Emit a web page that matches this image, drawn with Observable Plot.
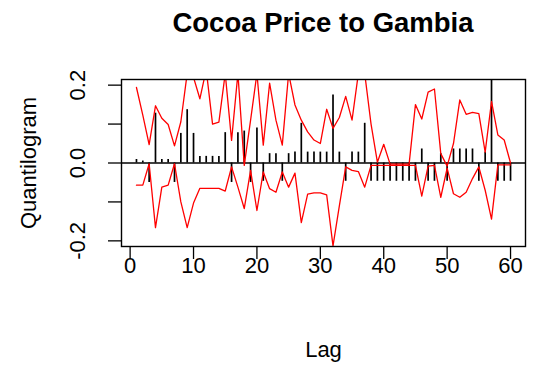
<!DOCTYPE html>
<html>
<head>
<meta charset="utf-8">
<script src="https://cdn.jsdelivr.net/npm/d3@7"></script>
<script src="https://cdn.jsdelivr.net/npm/@observablehq/plot@0.6"></script>
<style>
  html, body { margin: 0; padding: 0; background: #fff; }
  #wrap { width: 541px; height: 368px; position: relative; font-family: "Liberation Sans", Arial, sans-serif; }
  #title { box-sizing: border-box; height: 44px; padding: 9px 16px 0 121px; text-align: center;
           font-size: 27.5px; line-height: 27.5px; font-weight: bold; color: #000; }
</style>
</head>
<body>
<div id="wrap">
  <div id="title">Cocoa Price to Gambia</div>
  <div id="chart"></div>
</div>
<script>
const lags = [1,2,3,4,5,6,7,8,9,10,11,12,13,14,15,16,17,18,19,20,21,22,23,24,25,26,27,28,29,30,
              31,32,33,34,35,36,37,38,39,40,41,42,43,44,45,46,47,48,49,50,51,52,53,54,55,56,57,58,59,60];
const quantilogram = [0.009,0.005,-0.05,0.128,0.009,0.009,-0.05,0.076,0.137,0.076,
                      0.017,0.017,0.017,0.017,0.078,-0.05,0.078,0.082,-0.05,0.09,
                      -0.047,0.024,0.024,-0.047,0.024,0.028,0.102,0.028,0.028,0.028,
                      0.028,0.175,0.028,-0.047,0.028,0.028,0.102,-0.047,-0.047,-0.047,
                      -0.047,-0.047,-0.047,-0.047,-0.047,0.036,-0.047,-0.047,0.024,-0.047,
                      0.036,0.036,0.036,0.036,-0.047,0.028,0.3,-0.047,-0.047,-0.047];
const upper = [0.194,0.123,0.047,0.147,0.115,0.099,0.044,0.106,0.23,0.22,
               0.165,0.24,0.10,0.105,0.23,0.058,0.23,-0.006,0.11,0.23,
               0.046,0.205,0.11,0.046,0.23,0.149,0.11,0.08,0.059,0.05,
               0.138,0.089,0.117,0.171,0.11,0.23,0.23,0.10,0.002,0.048,
               -0.003,-0.003,-0.003,-0.003,0.15,0.113,0.182,0.19,0.024,-0.008,
               0.05,0.162,0.125,0.13,0.127,0.028,0.158,0.072,0.059,0.0];
const lower = [-0.057,-0.057,-0.002,-0.166,-0.062,-0.057,-0.002,-0.10,-0.166,-0.103,
               -0.065,-0.065,-0.065,-0.065,-0.072,-0.01,-0.062,-0.117,-0.019,-0.122,
               -0.023,-0.066,-0.075,-0.023,-0.062,-0.026,-0.153,-0.08,-0.077,-0.077,
               -0.082,-0.213,-0.11,-0.01,-0.019,-0.022,-0.062,-0.006,-0.006,-0.006,
               -0.006,-0.006,-0.006,-0.006,-0.006,-0.085,-0.008,-0.006,-0.088,-0.013,
               -0.079,-0.088,-0.075,-0.04,-0.01,-0.07,-0.144,-0.005,-0.005,-0.005];
const xTicks = [0,10,20,30,40,50,60];
const yTicks = [-0.2,-0.1,0,0.1,0.2];
const yTickLabels = ["-0.2","0.0","0.2"];
const yLabelValues = [-0.2,0,0.2];

const rows = lags.map((lag, i) => ({lag, q: quantilogram[i], up: upper[i], lo: lower[i]}));

const chart = Plot.plot({
  width: 541,
  height: 324,
  marginLeft: 121,
  marginRight: 16,
  marginTop: 35,
  marginBottom: 122,
  style: {fontFamily: "Liberation Sans, Arial, sans-serif", fontSize: "22px", background: "white", color: "black", overflow: "visible"},
  x: {domain: [-1.36, 62.36], axis: null},
  y: {domain: [-0.2145, 0.2145], axis: null},
  marks: [
    Plot.ruleY([0], {stroke: "black", strokeWidth: 1.3}),
    Plot.ruleX(rows, {x: "lag", y1: 0, y2: "q", stroke: "black", strokeWidth: 1.7, clip: true}),
    Plot.line(rows, {x: "lag", y: "up", stroke: "#ff0000", strokeWidth: 1.3, clip: true}),
    Plot.line(rows, {x: "lag", y: "lo", stroke: "#ff0000", strokeWidth: 1.3, clip: true}),
    Plot.frame({stroke: "black", strokeWidth: 1.4}),
    Plot.axisX({ticks: xTicks, tickSize: 13, stroke: "black", strokeWidth: 1.3, fill: "none", label: null}),
    Plot.axisY({ticks: yTicks, tickSize: 13, stroke: "black", strokeWidth: 1.3, fill: "none", label: null}),
    Plot.text(xTicks, {x: d => d, frameAnchor: "bottom", dy: 19, lineAnchor: "middle", textAnchor: "middle", text: d => String(d), fill: "black", fontSize: 22}),
    Plot.text(yLabelValues, {y: d => d, text: (d, i) => yTickLabels[i], frameAnchor: "left", dx: -37, rotate: -90, lineAnchor: "bottom", textAnchor: "middle", fill: "black", fontSize: 22}),
    Plot.text(["Lag"], {frameAnchor: "bottom", dy: 103, lineAnchor: "middle", textAnchor: "middle", text: d => d, fill: "black", fontSize: 22}),
    Plot.text(["Quantilogram"], {frameAnchor: "left", dx: -93, rotate: -90, lineAnchor: "middle", textAnchor: "middle", text: d => d, fill: "black", fontSize: 22})
  ]
});
document.getElementById("chart").appendChild(chart);
</script>
</body>
</html>
